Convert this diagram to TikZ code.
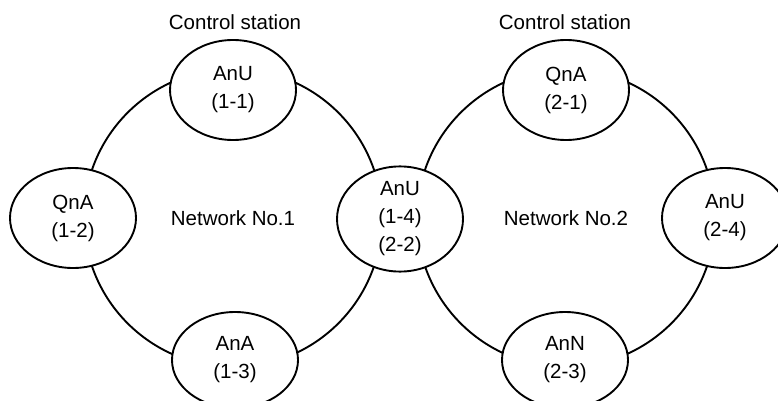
\documentclass[tikz,border=0pt]{standalone}
\usepackage{fontspec}
\setmainfont{Liberation Sans}
\usetikzlibrary{shapes.geometric}
\begin{document}
\begin{tikzpicture}[x=1pt,y=-1pt,
  ring/.style={line width=1.9pt,draw=black},
  station/.style={ellipse,draw=black,line width=1.9pt,fill=white,inner sep=0pt,
    minimum width=126pt,minimum height=100pt,align=center,
    font=\fontsize{20.5}{28}\selectfont},
  lbl/.style={font=\fontsize{20.5}{24}\selectfont,inner sep=0pt}]
\useasboundingbox (0,0) rectangle (778,401);
\clip (0,0) rectangle (778,401);
\fill[white] (0,0) rectangle (778,401);
\coordinate (n1) at (233,218);
\coordinate (n2) at (566,218);
\draw[ring] (n1) circle[radius=149];
\draw[ring] (n2) circle[radius=149];
\node[station] (c1) at (233,90) {AnU\\(1-1)};
\node[station] (c2) at (73,218) {QnA\\(1-2)};
\node[station,minimum height=96pt] (c3) at (235,360) {AnA\\(1-3)};
\node[station,minimum height=97pt] (m) at (400,219) {AnU\\(1-4)\\(2-2)};
\node[station] (d1) at (566,90) {QnA\\(2-1)};
\node[station] (d4) at (725,218) {AnU\\(2-4)};
\node[station,minimum height=96pt] (d3) at (565,360) {AnN\\(2-3)};
\node[lbl] (cs1) at (235,22) {Control station};
\node[lbl] (cs2) at (565,22) {Control station};
\node[lbl] (net1) at (n1) {Network No.1};
\node[lbl] (net2) at (n2) {Network No.2};
\end{tikzpicture}
\end{document}
